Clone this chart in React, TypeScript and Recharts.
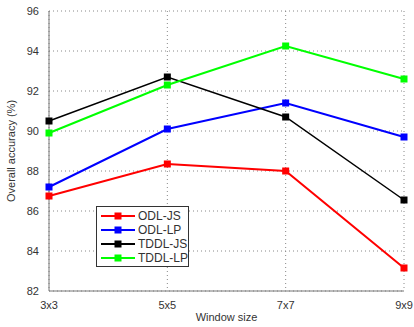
import React from 'react';
import { LineChart, Line, XAxis, YAxis, CartesianGrid, Legend, Label } from 'recharts';

const windowSizes = ['3x3', '5x5', '7x7', '9x9'];
const odlJs = [86.75, 88.35, 88.0, 83.15];
const odlLp = [87.2, 90.1, 91.4, 89.7];
const tddlJs = [90.5, 92.7, 90.7, 86.55];
const tddlLp = [89.9, 92.3, 94.25, 92.6];
const yTicks = [82, 84, 86, 88, 90, 92, 94, 96];

const data = windowSizes.map((w, i) => ({
  name: w,
  'ODL-JS': odlJs[i],
  'ODL-LP': odlLp[i],
  'TDDL-JS': tddlJs[i],
  'TDDL-LP': tddlLp[i],
}));

const series = [
  { key: 'ODL-JS', color: '#ff0000', width: 2 },
  { key: 'ODL-LP', color: '#0000ff', width: 2 },
  { key: 'TDDL-JS', color: '#000000', width: 1.5 },
  { key: 'TDDL-LP', color: '#00ff00', width: 2 },
];

const font = 'Liberation Sans, Arial, sans-serif';

const squareDot = (color: string) => (props: any) => {
  const { cx, cy, index } = props;
  if (cx == null || cy == null) return <g key={index} />;
  return <rect key={index} x={cx - 3.5} y={cy - 3.5} width={7} height={7} fill={color} />;
};

const LegendBox = () => (
  <div
    style={{
      border: '1px solid #333',
      background: '#fff',
      padding: '2px 0 2px 4px',
      fontFamily: font,
      fontSize: 12,
      lineHeight: '14px',
      color: '#333',
      boxSizing: 'border-box',
      width: 93,
      height: 61,
      whiteSpace: 'nowrap',
      textAlign: 'left',
    }}
  >
    {series.map((s) => (
      <div key={s.key} style={{ display: 'flex', alignItems: 'center', height: 14 }}>
        <svg width={34} height={10} style={{ marginRight: 3, flex: 'none' }}>
          <line x1={0} y1={5} x2={34} y2={5} stroke={s.color} strokeWidth={2} />
          <rect x={13.5} y={1.5} width={7} height={7} fill={s.color} />
        </svg>
        <span>{s.key}</span>
      </div>
    ))}
  </div>
);

export default function App() {
  return (
    <div style={{ position: 'absolute', left: 0, top: 0, width: 414, height: 327, background: '#fff' }}>
      <LineChart width={414} height={327} data={data} margin={{ top: 11, right: 10, bottom: 16, left: 14 }}>
        <CartesianGrid stroke="#888" strokeDasharray="1 3" />
        <XAxis
          dataKey="name"
          padding={{ left: 0, right: 0 }}
          stroke="#777"
          tickLine={false}
          tick={{ fill: '#333', fontSize: 11, fontFamily: font }}
          tickMargin={4}
          height={20}
        >
          <Label value="Window size" position="bottom" offset={2} style={{ fill: '#333', fontSize: 11, fontFamily: font }} />
        </XAxis>
        <YAxis
          domain={[82, 96]}
          ticks={yTicks}
          width={35}
          stroke="#777"
          tickLine={false}
          tick={{ fill: '#333', fontSize: 11, fontFamily: font }}
          tickMargin={4}
        >
          <Label
            value="Overall accuracy (%)"
            angle={-90}
            position="insideLeft"
            dx={-8}
            style={{ textAnchor: 'middle', fill: '#333', fontSize: 11, fontFamily: font }}
          />
        </YAxis>
        <Legend
          layout="vertical"
          align="center"
          verticalAlign="middle"
          content={() => <LegendBox />}
          wrapperStyle={{ left: 96, top: 206, width: 93, height: 61 }}
        />
        {series.map((s) => (
          <Line
            key={s.key}
            dataKey={s.key}
            stroke={s.color}
            strokeWidth={s.width}
            dot={squareDot(s.color)}
            activeDot={false}
            isAnimationActive={false}
          />
        ))}
      </LineChart>
    </div>
  );
}
